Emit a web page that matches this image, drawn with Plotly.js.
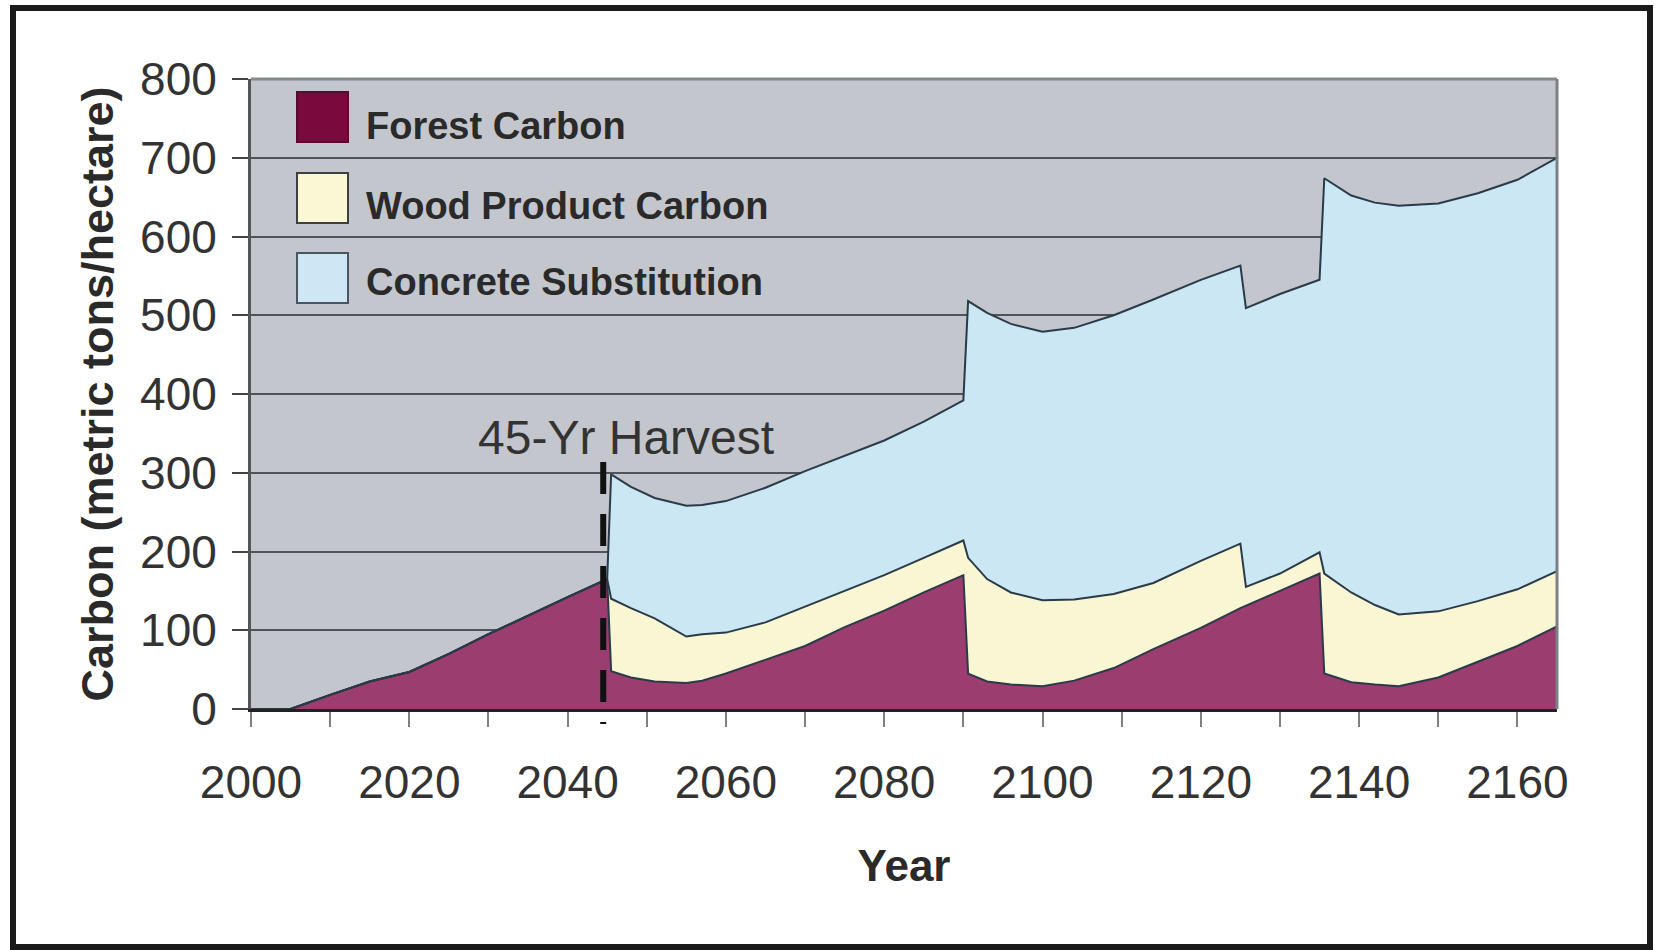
<!DOCTYPE html>
<html>
<head>
<meta charset="utf-8">
<script src="https://cdn.plot.ly/plotly-3.0.1.min.js"></script>
<style>
  html, body { margin: 0; padding: 0; background: #ffffff; }
  #chart { width: 1660px; height: 950px; }
</style>
</head>
<body>
<div id="chart"></div>
<script>
// ---- Data ----
const years = [2000, 2005, 2010, 2015, 2020, 2025, 2030, 2035, 2040, 2045,
  2045.5, 2048, 2051, 2055, 2057, 2060, 2065, 2070, 2075, 2080, 2085, 2090,
  2090.6, 2093, 2096, 2100, 2104, 2109, 2114, 2120, 2125,
  2125.7, 2130, 2135,
  2135.6, 2139, 2142, 2145, 2150, 2155, 2160, 2165];

const forestCarbon = [0, 0, 18, 35, 47, 70, 95, 119, 142, 165,
  48, 40, 35, 33, 36, 45, 62, 80, 104, 125, 148, 170,
  45, 35, 31, 29, 36, 52, 76, 103, 128,
  131, 150, 172,
  45, 34, 31, 29, 40, 60, 80, 105];

const woodProductCarbon = [0, 0, 0, 0, 0, 0, 0, 0, 0, 0,
  92, 88, 80, 59, 59, 52, 48, 50, 46, 45, 44, 44,
  147, 130, 117, 109, 103, 94, 84, 85, 82,
  24, 22, 27,
  127, 114, 101, 91, 84, 77, 72, 70];

const concreteSubstitution = [0, 0, 0, 0, 0, 0, 0, 0, 0, 0,
  158, 154, 153, 166, 164, 167, 171, 172, 171, 171, 173, 178,
  326, 338, 341, 341, 345, 354, 360, 357, 353,
  354, 355, 346,
  502, 504, 511, 519, 518, 518, 520, 525];

const seriesNames = ['Forest Carbon', 'Wood Product Carbon', 'Concrete Substitution'];
const harvestYear = 2044.5;
const harvestLabel = '45-Yr Harvest';
const xTitle = 'Year';
const yTitle = 'Carbon (metric tons/hectare)';

// ---- Styles ----
const areaColors = ['#9c3d6f', '#f8f6d3', '#cbe7f3'];
const swatchColors = ['#7a0a3e', '#f9f7d4', '#cfe6f5'];
const swatchBorders = ['#5a0a30', '#3f3f3f', '#4a5560'];
const outline = '#2b3a48';
const narrowFont = '"Liberation Sans Narrow", "Arial Narrow", "Liberation Sans", Arial, sans-serif';
const sansFont = '"Liberation Sans", Arial, sans-serif';

const seriesValues = [forestCarbon, woodProductCarbon, concreteSubstitution];
const traces = seriesValues.map((vals, i) => ({
  type: 'scatter',
  mode: 'lines',
  x: years,
  y: vals,
  name: seriesNames[i],
  stackgroup: 'carbon',
  fillcolor: areaColors[i],
  line: { color: outline, width: 2 },
  showlegend: false,
  hoverinfo: 'x+y+name'
}));

// plot area pixel geometry (for paper-coordinate layout pieces)
const L = 251, R = 1557, T = 79, B = 709;
const W = R - L, H = B - T;
const px = v => (v - L) / W;
const py = v => (B - v) / H;

const shapes = [];
const annotations = [];

// custom legend (large square swatches)
const swatchTops = [92, 173, 253];
const textCenters = [126, 206, 282];
seriesNames.forEach((name, i) => {
  shapes.push({
    type: 'rect', xref: 'paper', yref: 'paper', layer: 'above',
    x0: px(297), x1: px(348), y0: py(swatchTops[i] + 50), y1: py(swatchTops[i]),
    fillcolor: swatchColors[i], line: { color: swatchBorders[i], width: 2 }
  });
  annotations.push({
    xref: 'paper', yref: 'paper', x: px(364), y: py(textCenters[i]),
    xanchor: 'left', yanchor: 'middle', showarrow: false,
    text: name,
    font: { family: sansFont, size: 38, color: '#2a2a2a', weight: 'bold' }
  });
});

// harvest dashed line
shapes.push({
  type: 'line', xref: 'x', yref: 'paper', layer: 'above',
  x0: harvestYear, x1: harvestYear, y0: py(462), y1: py(724),
  line: { color: '#111111', width: 6, dash: '32px,20px' }
});
annotations.push({
  xref: 'x', yref: 'y', x: 2047.4, y: 345,
  xanchor: 'center', yanchor: 'middle', showarrow: false,
  text: harvestLabel,
  font: { family: sansFont, size: 48, color: '#333333' }
});

// plot frame top / right edges
shapes.push({ type: 'line', xref: 'paper', yref: 'paper', layer: 'above',
  x0: 0, x1: 1, y0: 1, y1: 1, line: { color: '#85888e', width: 3 } });
shapes.push({ type: 'line', xref: 'paper', yref: 'paper', layer: 'above',
  x0: 1, x1: 1, y0: 0, y1: 1, line: { color: '#7d8086', width: 3 } });

// outer black frame
shapes.push({
  type: 'rect', xref: 'paper', yref: 'paper', layer: 'above',
  x0: px(13), x1: px(1650), y0: py(947), y1: py(8),
  line: { color: '#1a1a1a', width: 6 }
});

const layout = {
  width: 1660,
  height: 950,
  margin: { l: L, r: 1660 - R, t: T, b: 950 - B, pad: 0 },
  paper_bgcolor: '#ffffff',
  plot_bgcolor: '#c3c6cc',
  showlegend: false,
  xaxis: {
    range: [2000, 2165],
    tick0: 2000,
    dtick: 20,
    ticks: 'outside',
    ticklen: 15,
    tickwidth: 2,
    tickcolor: '#808080',
    ticklabelstandoff: 16,
    minor: { dtick: 10, ticks: 'outside', ticklen: 15, tickwidth: 2, tickcolor: '#808080', showgrid: false },
    showgrid: false,
    zeroline: false,
    showline: true,
    linecolor: '#222222',
    linewidth: 3,
    tickfont: { family: narrowFont, size: 46, color: '#333333' },
    title: { text: xTitle, standoff: 43, font: { family: sansFont, size: 44, color: '#2a2a2a', weight: 'bold' } },
    fixedrange: true
  },
  yaxis: {
    range: [0, 800],
    dtick: 100,
    ticks: 'outside',
    ticklen: 16,
    tickwidth: 2,
    tickcolor: '#444444',
    ticklabelstandoff: 6,
    showgrid: true,
    gridcolor: '#4f545a',
    gridwidth: 2,
    zeroline: false,
    showline: true,
    linecolor: '#555555',
    linewidth: 3,
    tickfont: { family: narrowFont, size: 46, color: '#333333' },
    title: { text: yTitle, standoff: 13, font: { family: sansFont, size: 45, color: '#2a2a2a', weight: 'bold' } },
    fixedrange: true
  },
  shapes: shapes,
  annotations: annotations
};

Plotly.newPlot('chart', traces, layout, { displayModeBar: false, staticPlot: true });
</script>
</body>
</html>
